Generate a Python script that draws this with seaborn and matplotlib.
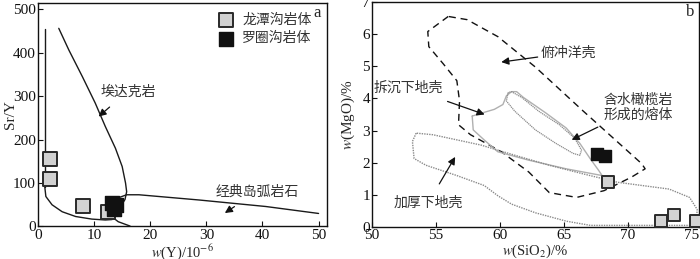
import numpy as np
import pandas as pd
import seaborn as sns
import matplotlib
matplotlib.use('Agg')
import matplotlib.pyplot as plt

sns.set_style('ticks')
plt.rcParams['font.family'] = ['Liberation Serif', 'Noto Sans CJK SC', 'DejaVu Sans']
plt.rcParams['mathtext.fontset'] = 'stix'
cjk = ['Noto Sans CJK SC', 'DejaVu Sans']

### panel a data: Sr/Y vs Y
lt_y = [2.1, 2.2, 8.1, 12.5]          # 龙潭沟岩体
lt_sry = [155, 110, 48, 34]
lq_y = [13.1, 13.9, 13.6]             # 罗圈沟岩体
lq_sry = [53, 50, 41]

# field outlines, panel a
vert_x = [1.2, 1.2]
vert_y = [455, 92]
low_x = [1.2, 1.4, 2.5, 4.3, 6.7, 9.6, 12.0, 13.2]
low_y = [92, 69, 50, 34, 23, 17, 15, 16]
adak_x = [3.7, 5.5, 7.9, 10.2, 12.0, 13.8, 15.0, 15.6, 15.8, 15.5, 14.7, 13.5, 12.8]
adak_y = [456, 406, 345, 284, 230, 180, 138, 100, 80, 62, 46, 30, 20]
arc_x = [50, 40.6, 28.7, 18.0, 15.8, 14.3, 13.5, 13.1, 13.2, 14.3, 16.4]
arc_y = [30, 46, 61, 73, 73, 66, 55, 40, 22, 11, 1]

### panel b data: MgO vs SiO2
lt_si = [68.4, 72.6, 73.6, 75.3]
lt_mg = [1.40, 0.20, 0.37, 0.20]
lq_si = [67.6, 68.2]
lq_mg = [2.27, 2.22]

# 俯冲洋壳 (dashed)
ocean_x = [55.96, 54.36, 54.44, 55.56, 56.63, 56.84, 56.76, 57.70, 60.11, 62.25, 63.85,
           65.99, 68.13, 70.27, 71.34, 71.07, 66.52, 62.78, 59.84, 57.43, 55.96]
ocean_y = [6.55, 6.08, 5.61, 5.08, 4.55, 3.92, 3.18, 2.87, 2.34, 1.71, 1.07,
           0.92, 1.13, 1.55, 1.81, 1.97, 3.60, 4.97, 5.92, 6.45, 6.55]
# 拆沉下地壳 (light grey)
delam_x = [57.83, 58.63, 59.56, 60.23, 60.50, 60.90, 61.30, 61.83, 63.57, 65.17, 66.24,
           67.04, 67.71, 67.98, 65.17, 62.23, 59.83, 58.76, 57.91, 57.83]
delam_y = [3.45, 3.55, 3.66, 3.81, 4.08, 4.21, 4.21, 4.03, 3.55, 3.08, 2.60,
           2.13, 1.76, 1.60, 1.81, 2.08, 2.34, 2.71, 3.02, 3.45]
# 含水橄榄岩形成的熔体
melt_x = [60.63, 60.50, 61.16, 62.77, 64.37, 65.71, 66.24, 66.37, 65.84, 64.64, 63.03,
          61.70, 60.90, 60.63]
melt_y = [4.18, 3.92, 3.60, 3.02, 2.60, 2.29, 2.23, 2.39, 2.76, 3.18, 3.60,
          4.03, 4.21, 4.18]
# 加厚下地壳 (dotted)
thick_x = [53.45, 53.16, 53.29, 54.22, 56.63, 58.77, 59.84, 60.91, 62.78, 65.19, 67.06,
           75.35, 75.40, 74.81, 73.21, 69.20, 66.52, 63.85, 61.18, 58.50, 54.76, 53.45]
thick_y = [2.92, 2.66, 2.13, 1.92, 1.60, 1.29, 0.97, 0.71, 0.44, 0.18, 0.05,
           0.05, 0.55, 0.92, 1.18, 1.39, 1.65, 1.92, 2.23, 2.55, 2.87, 2.92]

fig = plt.figure(figsize=(7.0, 2.59), dpi=100)
ax1 = fig.add_axes([0.0543, 0.1255, 0.4128, 0.8641])
ax2 = fig.add_axes([0.5314, 0.1236, 0.4672, 0.8688])

gray_fc = '#d2d2d2'
edge = '#2a2a2a'
txt_c = '#333333'

### panel a
for xs, ys in [(vert_x, vert_y), (low_x, low_y), (adak_x, adak_y), (arc_x, arc_y)]:
    sns.lineplot(x=xs, y=ys, sort=False, estimator=None, color='#1a1a1a', lw=1.0, ax=ax1)
sns.scatterplot(x=lt_y, y=lt_sry, marker='s', s=90, color=gray_fc, edgecolor=edge,
                linewidth=1.4, ax=ax1, zorder=5, label='龙潭沟岩体')
sns.scatterplot(x=lq_y, y=lq_sry, marker='s', s=105, color='#111111', edgecolor='#111111',
                linewidth=1.0, ax=ax1, zorder=6, label='罗圈沟岩体')
leg = ax1.legend(loc='upper left', bbox_to_anchor=(0.57, 1.0), frameon=False,
                 handletextpad=0.15, labelspacing=0.35, borderaxespad=0.3,
                 prop={'family': cjk, 'size': 10})
for t in leg.get_texts():
    t.set_color(txt_c)

ax1.set_xlim(0, 51.5)
ax1.set_ylim(0, 515)
ax1.set_xticks(range(0, 51, 10))
ax1.set_yticks(range(0, 501, 100))
ax1.set_xlabel('$w$(Y)/10$^{-6}$', fontsize=10.5)
ax1.set_ylabel('Sr/Y', fontsize=11)
ax1.xaxis.set_label_coords(0.5, -0.07)
ax1.yaxis.set_label_coords(-0.074, 0.5)
ax1.text(0.965, 0.955, 'a', transform=ax1.transAxes, ha='center', va='center', fontsize=12)

ax1.annotate('埃达克岩', xy=(10.8, 253), xytext=(16, 311), ha='center', va='center',
             fontsize=10, family=cjk, color=txt_c,
             arrowprops=dict(arrowstyle='-|>', color='#111111', lw=0.9, mutation_scale=11,
                             shrinkA=6, shrinkB=0))
ax1.annotate('经典岛弧岩石', xy=(33.3, 31), xytext=(39, 80), ha='center', va='center',
             fontsize=10, family=cjk, color=txt_c,
             arrowprops=dict(arrowstyle='-|>', color='#111111', lw=0.9, mutation_scale=11,
                             shrinkA=6, shrinkB=0))

### panel b
sns.lineplot(x=ocean_x, y=ocean_y, sort=False, estimator=None, color='#111111', lw=1.0,
             ax=ax2, linestyle=(0, (5, 3.5)))
sns.lineplot(x=delam_x, y=delam_y, sort=False, estimator=None, color='#b0b0b0', lw=1.0, ax=ax2)
sns.lineplot(x=melt_x, y=melt_y, sort=False, estimator=None, color='#8a8a8a', lw=0.9,
             ax=ax2, linestyle=(0, (1, 0.6)))
sns.lineplot(x=thick_x, y=thick_y, sort=False, estimator=None, color='#8a8a8a', lw=1.0,
             ax=ax2, linestyle=(0, (1, 0.8)))
sns.scatterplot(x=lt_si, y=lt_mg, marker='s', s=85, color=gray_fc, edgecolor=edge,
                linewidth=1.4, ax=ax2, zorder=5, legend=False)
sns.scatterplot(x=lq_si, y=lq_mg, marker='s', s=85, color='#111111', edgecolor='#111111',
                linewidth=1.0, ax=ax2, zorder=6, legend=False)

ax2.set_xlim(50, 75.55)
ax2.set_ylim(0, 7)
ax2.set_xticks(range(50, 76, 5))
ax2.set_yticks(range(0, 8))
ax2.set_xlabel('$w$(SiO$_2$)/%', fontsize=10.5)
ax2.set_ylabel('$w$(MgO)/%', fontsize=11)
ax2.xaxis.set_label_coords(0.5, -0.07)
ax2.yaxis.set_label_coords(-0.045, 0.5)
ax2.text(74.85, 6.68, 'b', ha='center', va='center', fontsize=12)

arrow_kw = dict(arrowstyle='-|>', color='#111111', lw=0.9, mutation_scale=11, shrinkA=0, shrinkB=0)
ax2.annotate('俯冲洋壳', xy=(60.1, 5.13), xytext=(63.2, 5.42), ha='left', va='center',
             fontsize=10, family=cjk, color=txt_c, arrowprops=arrow_kw)
ax2.annotate('拆沉下地壳', xy=(58.8, 3.5), xytext=(52.8, 4.34), ha='center', va='center',
             fontsize=10, family=cjk, color=txt_c,
             arrowprops=dict(arrow_kw, shrinkA=8))
ax2.annotate('含水橄榄岩\n形成的熔体', xy=(65.6, 2.71), xytext=(70.8, 3.72), ha='center', va='center',
             fontsize=10, family=cjk, color=txt_c, linespacing=1.0,
             arrowprops=dict(arrow_kw, shrinkA=4))
ax2.annotate('加厚下地壳', xy=(56.5, 2.18), xytext=(54.4, 0.76), ha='center', va='center',
             fontsize=10, family=cjk, color=txt_c,
             arrowprops=dict(arrow_kw, shrinkA=7))

for ax in (ax1, ax2):
    ax.tick_params(direction='in', length=3.5, width=0.8, labelsize=11, pad=1.5, colors='#111111')
    for sp in ax.spines.values():
        sp.set_visible(True)
        sp.set_linewidth(1.0)
        sp.set_color('#111111')

fig.savefig('out.png', dpi=100)
